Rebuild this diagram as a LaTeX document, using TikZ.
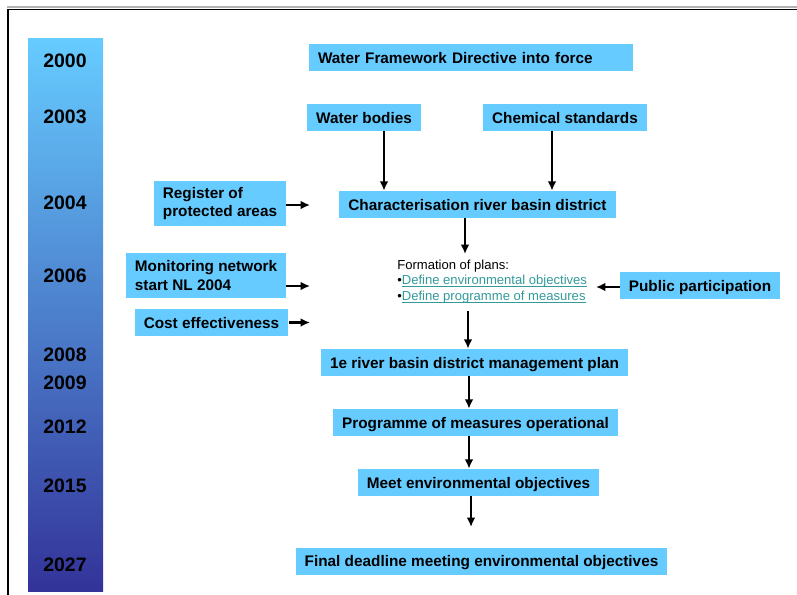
\documentclass[tikz,border=0pt]{standalone}
\usepackage{fontspec}
\setmainfont{Liberation Sans}
\usetikzlibrary{arrows.meta}
\definecolor{boxblue}{HTML}{66CCFF}
\definecolor{bartop}{HTML}{66CCFF}
\definecolor{barbottom}{HTML}{333399}
\definecolor{linkteal}{HTML}{339999}
\newcommand{\plink}[1]{{\color{linkteal}\setbox0\hbox{#1}\rlap{\rule[-1.4pt]{\wd0}{0.7pt}}\box0}}

\begin{document}
\begin{tikzpicture}[x=0.75pt,y=-0.75pt,
  box/.style={fill=boxblue,font=\fontsize{11.5}{14}\selectfont\bfseries,inner xsep=6.75pt,minimum height=20.25pt,text height=8.3pt,text depth=0pt},
  twobox/.style={fill=boxblue,font=\fontsize{11.5}{14}\selectfont\bfseries,inner xsep=6.75pt,inner ysep=4pt,minimum height=33.75pt,align=left},
  year/.style={font=\fontsize{14.6}{17}\selectfont\bfseries},
  plans/.style={font=\fontsize{9.8}{11.8}\selectfont,align=left,inner sep=0pt},
  arr/.style={-{Latex[length=7pt,width=6.5pt]},line width=2pt}]
\useasboundingbox (0,0) rectangle (797,594);
% frame of the slide
\draw[gray!60,line width=1pt] (7,7) -- (797,7);
\draw[line width=1.3pt] (8,600) -- (8,9.5) -- (800,9.5);
% time bar
\shade[top color=bartop,bottom color=barbottom] (28,38) rectangle (103,591);
\foreach \yr/\y in {2000/61,2003/117,2004/203,2006/276,2008/355,2009/383,2012/427,2015/486,2027/565} % edit here for the years
\node[year] (y\yr) at (65,\y) {\yr};

\node[box,text width=229.5pt,align=left] (wfd) at (471,57.5) {Water Framework Directive into force};
\node[box] (wb) at (364,117.5) {Water bodies};
\node[box] (chem) at (565,117.5) {Chemical standards};
\node[twobox] (reg) at (220,203.5) {Register of\\protected areas};
\node[box] (char) at (477.5,204.5) {Characterisation river basin district};
\node[twobox] (mon) at (206,275.5) {Monitoring network\\start NL 2004};
\node[box] (cost) at (211.5,322.5) {Cost effectiveness};
\node[plans,anchor=north west] (plans) at (397,259.5) {Formation of plans:\\%
  •\plink{Define environmental objectives}\\%
  •\plink{Define programme of measures}};
\node[box] (pub) at (700,285.5) {Public participation};
\node[box] (rbmp) at (474.5,362.5) {1e river basin district management plan};
\node[box] (pom) at (475.5,422.5) {Programme of measures operational};
\node[box] (meet) at (478.5,482.5) {Meet environmental objectives};
\node[box] (final) at (481.5,561) {Final deadline meeting environmental objectives};

% free ends of the arrows
\coordinate (regto) at (310,205);
\coordinate (monto) at (310,286);
\coordinate (costto) at (310,322.5);
\coordinate (pubto) at (596,287);
\coordinate (plansin) at (465,254);
\coordinate (plansout) at (468,311);
\coordinate (meetto) at (471,527);

\draw[arr] (wb.south -| 384,0) -- (char.north -| 384,0);
\draw[arr] (chem.south -| 552,0) -- (char.north -| 552,0);
\draw[arr] (reg.east |- regto) -- (regto);
\draw[arr] (mon.east |- monto) -- (monto);
\draw[arr] (cost.east |- costto) -- (costto);
\draw[arr] (pub.west |- pubto) -- (pubto);
\draw[arr] (char.south -| plansin) -- (plansin);
\draw[arr] (plansout) -- (rbmp.north -| plansout);
\draw[arr] (rbmp.south -| 469,0) -- (pom.north -| 469,0);
\draw[arr] (pom.south -| 469,0) -- (meet.north -| 469,0);
\draw[arr] (meet.south -| meetto) -- (meetto);
\end{tikzpicture}
\end{document}
